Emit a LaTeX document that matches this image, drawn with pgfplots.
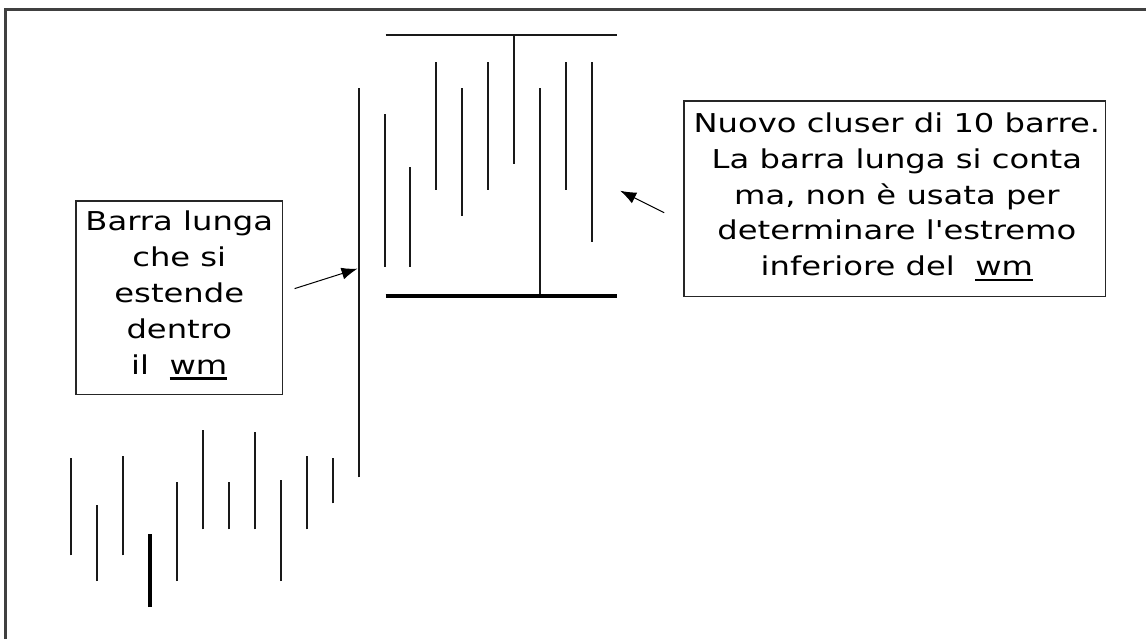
\documentclass[border=0pt]{standalone}
\usepackage{pgfplots}
\pgfplotsset{compat=1.18}
\usepackage{pgfplotstable}
\usepackage{fontspec}
\setmainfont{DejaVu Sans}
\newfontfamily\boxfont{DejaVu Sans}[FakeStretch=1.24]
\usetikzlibrary{arrows.meta}
\newcommand\wm{\setbox0\hbox{wm}\leavevmode\rlap{\rule[-2.6pt]{\wd0}{1.3pt}}\box0}

% bars: x position, low, high
\pgfplotstableread{
x low high
71 84 181
97 58 134
123 84 183
177 58 157
203 110 209
229 110 157
255 110 207
281 58 159
307 110 183
333 136 181
359 162 552
385 373 526
411 373 473
437 450 578
463 424 552
489 450 578
515 476 605
541 345 552
567 450 578
593 398 578
}\bars

\pgfplotstableread{
x low high
150 32 105
}\thickbar

\begin{document}
\begin{tikzpicture}
\begin{axis}[
  width=573.5pt, height=320pt, scale only axis,
  xmin=0, xmax=1147, ymin=0, ymax=640,
  hide axis, clip=false,
]
\path (axis cs:0,0) rectangle (axis cs:1147,640);
% frame
\draw[line width=1.5pt, black!75] (axis cs:6,0) -- (axis cs:6,630) -- (axis cs:1147,630);

\addplot[draw=none, mark=none,
  error bars/.cd, y dir=plus, y explicit,
  error mark=none, error bar style={line width=1pt, black!90}]
  table[x=x, y=low, y error expr=\thisrow{high}-\thisrow{low}] {\bars};
\addplot[draw=none, mark=none,
  error bars/.cd, y dir=plus, y explicit,
  error mark=none, error bar style={line width=2pt, black}]
  table[x=x, y=low, y error expr=\thisrow{high}-\thisrow{low}] {\thickbar};

% cluster boundaries
\addplot[black!90, line width=1pt] coordinates {(386,605) (618,605)};
\addplot[black, line width=2pt] coordinates {(386,344) (618,344)};

% boxes
\draw[black!85, line width=0.8pt] (axis cs:76,245) rectangle (axis cs:283,439);
\node[align=center, font=\boxfont\fontsize{13}{18}\selectfont, inner sep=0pt]
  at (axis cs:179.5,344) {Barra lunga\\che si\\estende\\dentro\\il\ \ \wm};
\draw[black!85, line width=0.8pt] (axis cs:685,343) rectangle (axis cs:1107,539);
\node[align=center, font=\boxfont\fontsize{13}{18}\selectfont, inner sep=0pt]
  at (axis cs:898,443) {Nuovo cluser di 10 barre.\\La barra lunga si conta\\ma, non è usata per\\determinare l'estremo\\inferiore del\ \ \wm};

% arrows
\draw[-{Latex[length=8pt,width=6pt]}, line width=0.5pt] (axis cs:295,351) -- (axis cs:358,371);
\draw[-{Latex[length=8pt,width=6pt]}, line width=0.5pt] (axis cs:665,427) -- (axis cs:621,449);
\end{axis}
\end{tikzpicture}
\end{document}
